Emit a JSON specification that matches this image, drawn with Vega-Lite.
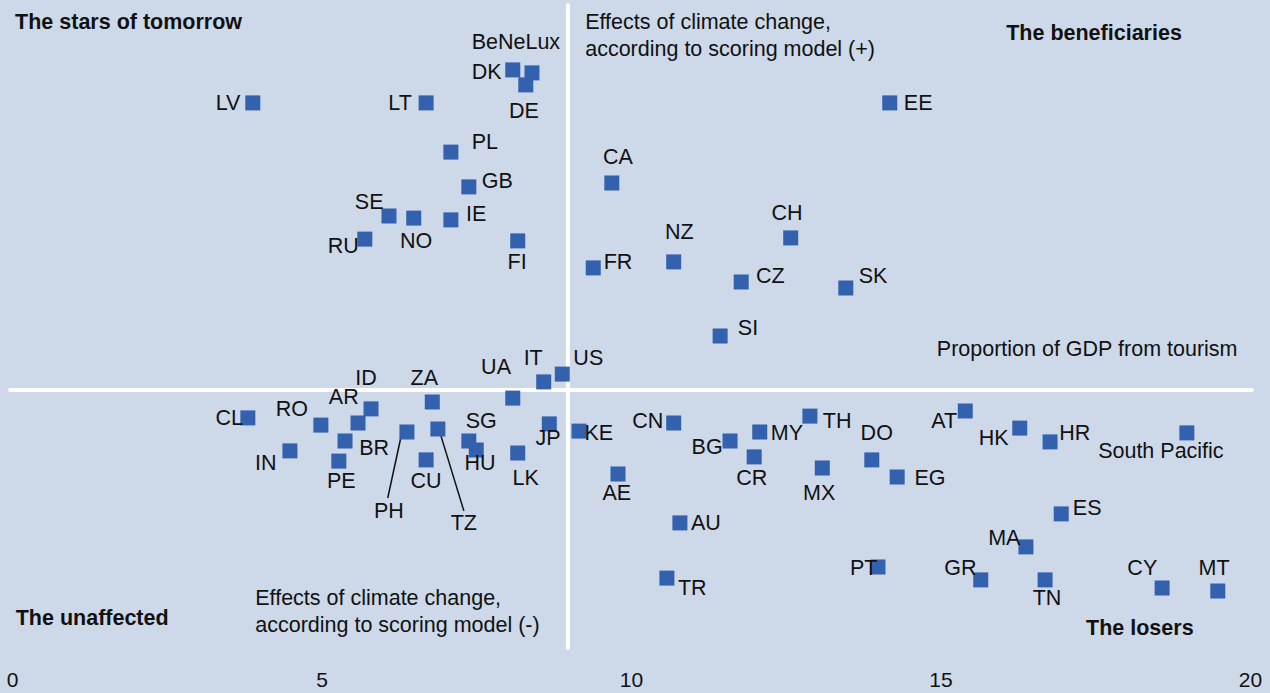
{
  "$schema": "https://vega.github.io/schema/vega-lite/v6.json",
  "width": 1238,
  "height": 660,
  "autosize": {"type": "none"},
  "padding": {"left": 12, "top": 0, "right": 20, "bottom": 33},
  "background": "#cdd8e9",
  "config": {
    "view": {"stroke": null},
    "text": {"font": "Liberation Sans", "fontSize": 21.5, "color": "#111111", "dy": 1.5}
  },
  "datasets": {
    "rules": [
      {"x": -0.03, "x2": 20.03, "y": 0, "y2": 0},
      {"x": 8.98, "x2": 8.98, "y": -8.6, "y2": 12.83}
    ],
    "leaders": [
      {"name": "PH", "x": 6.28, "y": -1.6, "x2": 6.07, "y2": -3.6},
      {"name": "TZ", "x": 6.93, "y": -1.53, "x2": 7.3, "y2": -4.03}
    ],
    "points": [
      {"name": "LV", "x": 3.89, "y": 9.57, "lx": 3.49, "ly": 9.57},
      {"name": "LT", "x": 6.69, "y": 9.57, "lx": 6.27, "ly": 9.57},
      {"name": "DK", "x": 8.09, "y": 10.67, "lx": 7.67, "ly": 10.63},
      {"name": "BeNeLux", "x": 8.4, "y": 10.57, "lx": 8.14, "ly": 11.63},
      {"name": "DE", "x": 8.3, "y": 10.17, "lx": 8.27, "ly": 9.33},
      {"name": "PL", "x": 7.09, "y": 7.93, "lx": 7.64, "ly": 8.27},
      {"name": "GB", "x": 7.38, "y": 6.77, "lx": 7.84, "ly": 6.97},
      {"name": "SE", "x": 6.09, "y": 5.8, "lx": 5.77, "ly": 6.27},
      {"name": "NO", "x": 6.49, "y": 5.73, "lx": 6.53, "ly": 4.97},
      {"name": "IE", "x": 7.09, "y": 5.67, "lx": 7.5, "ly": 5.87},
      {"name": "RU", "x": 5.7, "y": 5.03, "lx": 5.35, "ly": 4.83},
      {"name": "FI", "x": 8.17, "y": 4.97, "lx": 8.16, "ly": 4.27},
      {"name": "CA", "x": 9.69, "y": 6.9, "lx": 9.79, "ly": 7.8},
      {"name": "EE", "x": 14.18, "y": 9.57, "lx": 14.64, "ly": 9.57},
      {"name": "CH", "x": 12.58, "y": 5.07, "lx": 12.52, "ly": 5.93},
      {"name": "NZ", "x": 10.69, "y": 4.27, "lx": 10.78, "ly": 5.3},
      {"name": "FR", "x": 9.39, "y": 4.07, "lx": 9.79, "ly": 4.3},
      {"name": "CZ", "x": 11.78, "y": 3.6, "lx": 12.25, "ly": 3.83},
      {"name": "SK", "x": 13.47, "y": 3.4, "lx": 13.91, "ly": 3.83},
      {"name": "SI", "x": 11.44, "y": 1.8, "lx": 11.89, "ly": 2.1},
      {"name": "US", "x": 8.89, "y": 0.53, "lx": 9.31, "ly": 1.1},
      {"name": "IT", "x": 8.59, "y": 0.27, "lx": 8.42, "ly": 1.1},
      {"name": "UA", "x": 8.09, "y": -0.27, "lx": 7.82, "ly": 0.77},
      {"name": "ID", "x": 5.8, "y": -0.63, "lx": 5.72, "ly": 0.43},
      {"name": "ZA", "x": 6.79, "y": -0.4, "lx": 6.66, "ly": 0.43},
      {"name": "AR", "x": 5.59, "y": -1.1, "lx": 5.36, "ly": -0.23},
      {"name": "RO", "x": 4.99, "y": -1.17, "lx": 4.52, "ly": -0.6},
      {"name": "CL", "x": 3.81, "y": -0.93, "lx": 3.51, "ly": -0.93},
      {"name": "BR", "x": 5.38, "y": -1.7, "lx": 5.85, "ly": -1.9},
      {"name": "IN", "x": 4.49, "y": -2.03, "lx": 4.1, "ly": -2.43},
      {"name": "PE", "x": 5.28, "y": -2.37, "lx": 5.32, "ly": -3.0},
      {"name": "PH", "x": 6.38, "y": -1.4, "lx": 6.09, "ly": -4.03},
      {"name": "CU", "x": 6.69, "y": -2.33, "lx": 6.69, "ly": -3.0},
      {"name": "TZ", "x": 6.88, "y": -1.3, "lx": 7.3, "ly": -4.4},
      {"name": "SG", "x": 7.38, "y": -1.7, "lx": 7.58, "ly": -1.03},
      {"name": "HU", "x": 7.5, "y": -2.0, "lx": 7.56, "ly": -2.4},
      {"name": "LK", "x": 8.17, "y": -2.1, "lx": 8.3, "ly": -2.9},
      {"name": "JP", "x": 8.68, "y": -1.13, "lx": 8.66, "ly": -1.57},
      {"name": "KE", "x": 9.16, "y": -1.37, "lx": 9.48, "ly": -1.4},
      {"name": "CN", "x": 10.69, "y": -1.1, "lx": 10.27, "ly": -1.0},
      {"name": "AE", "x": 9.79, "y": -2.8, "lx": 9.77, "ly": -3.43},
      {"name": "AU", "x": 10.79, "y": -4.43, "lx": 11.21, "ly": -4.4},
      {"name": "TR", "x": 10.58, "y": -6.27, "lx": 10.99, "ly": -6.57},
      {"name": "BG", "x": 11.6, "y": -1.7, "lx": 11.23, "ly": -1.87},
      {"name": "MY", "x": 12.08, "y": -1.4, "lx": 12.52, "ly": -1.43},
      {"name": "CR", "x": 11.99, "y": -2.23, "lx": 11.95, "ly": -2.9},
      {"name": "TH", "x": 12.89, "y": -0.87, "lx": 13.33, "ly": -1.0},
      {"name": "MX", "x": 13.09, "y": -2.6, "lx": 13.04, "ly": -3.43},
      {"name": "DO", "x": 13.89, "y": -2.33, "lx": 13.97, "ly": -1.43},
      {"name": "EG", "x": 14.3, "y": -2.9, "lx": 14.83, "ly": -2.9},
      {"name": "AT", "x": 15.4, "y": -0.7, "lx": 15.06, "ly": -1.0},
      {"name": "HK", "x": 16.28, "y": -1.27, "lx": 15.86, "ly": -1.57},
      {"name": "HR", "x": 16.77, "y": -1.73, "lx": 17.17, "ly": -1.43},
      {"name": "South Pacific", "x": 18.98, "y": -1.43, "lx": 18.56, "ly": -2.0},
      {"name": "ES", "x": 16.95, "y": -4.13, "lx": 17.37, "ly": -3.9},
      {"name": "MA", "x": 16.38, "y": -5.23, "lx": 16.03, "ly": -4.9},
      {"name": "PT", "x": 13.99, "y": -5.9, "lx": 13.76, "ly": -5.9},
      {"name": "GR", "x": 15.65, "y": -6.33, "lx": 15.32, "ly": -5.9},
      {"name": "TN", "x": 16.69, "y": -6.33, "lx": 16.72, "ly": -6.9},
      {"name": "CY", "x": 18.58, "y": -6.6, "lx": 18.26, "ly": -5.9},
      {"name": "MT", "x": 19.48, "y": -6.7, "lx": 19.42, "ly": -5.9}
    ],
    "notes": [
      {"text": "The stars of tomorrow", "x": 0.05, "y": 12.27, "bold": true, "align": "left"},
      {"text": "The beneficiaries", "x": 17.48, "y": 11.93, "bold": true, "align": "center"},
      {"text": "The unaffected", "x": 0.06, "y": -7.57, "bold": true, "align": "left"},
      {"text": "The losers", "x": 18.22, "y": -7.93, "bold": true, "align": "center"},
      {"text": "Effects of climate change,", "x": 9.26, "y": 12.27, "bold": false, "align": "left"},
      {"text": "according to scoring model (+)", "x": 9.26, "y": 11.37, "bold": false, "align": "left"},
      {"text": "Proportion of GDP from tourism", "x": 14.94, "y": 1.4, "bold": false, "align": "left"},
      {"text": "Effects of climate change,", "x": 3.93, "y": -6.9, "bold": false, "align": "left"},
      {"text": "according to scoring model (-)", "x": 3.93, "y": -7.8, "bold": false, "align": "left"}
    ]
  },
  "encoding": {
    "x": {
      "field": "x",
      "type": "quantitative",
      "scale": {"domain": [0, 20], "nice": false, "zero": false},
      "axis": {
        "values": [0, 5, 10, 15, 20],
        "domain": false,
        "ticks": false,
        "grid": false,
        "title": null,
        "labelFont": "Liberation Sans",
        "labelFontSize": 21,
        "labelColor": "#111111",
        "labelPadding": 9,
        "labelFlush": false
      }
    },
    "y": {
      "field": "y",
      "type": "quantitative",
      "scale": {"domain": [-9, 13], "nice": false, "zero": false},
      "axis": null
    }
  },
  "layer": [
    {
      "data": {"name": "rules"},
      "mark": {"type": "rule", "color": "white", "strokeWidth": 4, "strokeCap": "round"},
      "encoding": {
        "x2": {"field": "x2"},
        "y2": {"field": "y2"}
      }
    },
    {
      "data": {"name": "leaders"},
      "mark": {"type": "rule", "color": "#111111", "strokeWidth": 1.5},
      "encoding": {
        "x2": {"field": "x2"},
        "y2": {"field": "y2"}
      }
    },
    {
      "data": {"name": "points"},
      "mark": {"type": "point", "shape": "square", "filled": true, "size": 225, "color": "#3461ae", "opacity": 1}
    },
    {
      "data": {"name": "points"},
      "mark": {"type": "text", "align": "center", "baseline": "middle"},
      "encoding": {
        "x": {"field": "lx", "type": "quantitative"},
        "y": {"field": "ly", "type": "quantitative"},
        "text": {"field": "name"}
      }
    },
    {
      "data": {"name": "notes"},
      "transform": [{"filter": "datum.bold && datum.align == 'left'"}],
      "mark": {"type": "text", "align": "left", "baseline": "middle", "fontWeight": "bold"},
      "encoding": {"text": {"field": "text"}}
    },
    {
      "data": {"name": "notes"},
      "transform": [{"filter": "datum.bold && datum.align == 'center'"}],
      "mark": {"type": "text", "align": "center", "baseline": "middle", "fontWeight": "bold"},
      "encoding": {"text": {"field": "text"}}
    },
    {
      "data": {"name": "notes"},
      "transform": [{"filter": "!datum.bold"}],
      "mark": {"type": "text", "align": "left", "baseline": "middle"},
      "encoding": {"text": {"field": "text"}}
    }
  ]
}
